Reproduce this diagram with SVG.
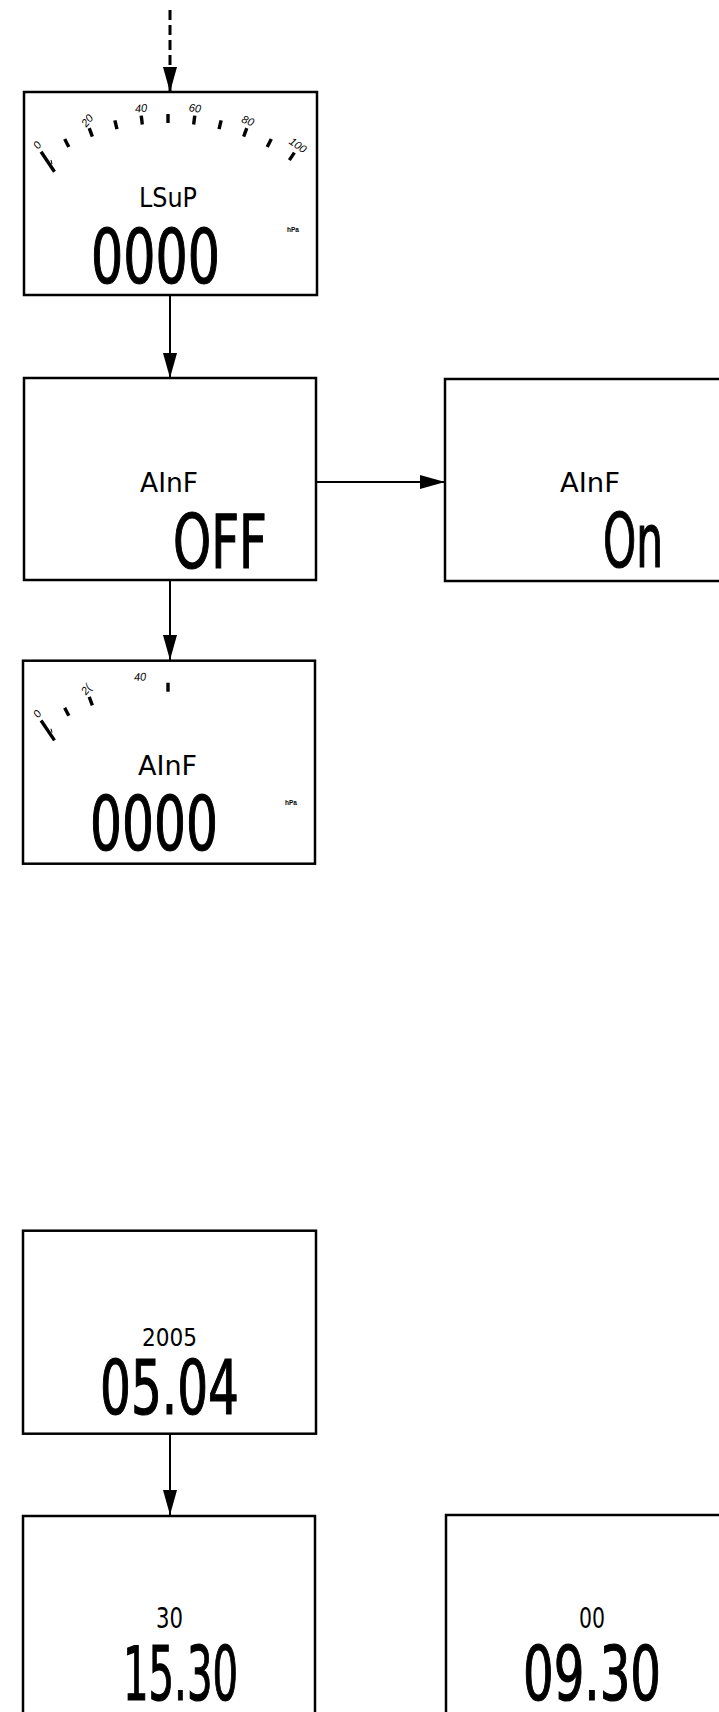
<svg xmlns="http://www.w3.org/2000/svg" width="719" height="1712" viewBox="0 0 719 1712">
<style>
.box{fill:#fff;stroke:#000;stroke-width:2.5}
.con{stroke:#000;stroke-width:2;fill:none}
.dash{stroke-width:3}
.lcd{font-family:"Liberation Sans Narrow","DejaVu Sans Condensed","Liberation Sans",sans-serif;fill:#000}
.big{font-size:75px;stroke:#000;stroke-width:1.2}
.mid{font-size:27px}
.lbl{font-family:"Liberation Sans Narrow","Liberation Sans",sans-serif;font-size:11px;font-style:italic;fill:#000}
.unit{font-family:"Liberation Sans Narrow","Liberation Sans",sans-serif;font-size:8px;font-weight:bold;fill:#000}
.tick{stroke:#000;stroke-width:3.4;stroke-linecap:butt}
</style>
<defs>
<marker id="ah" viewBox="0 0 25 14" refX="25" refY="7" markerWidth="25" markerHeight="14" markerUnits="userSpaceOnUse" orient="auto">
<path d="M0,0 L25,7 L0,14 z" fill="#000"/>
</marker>
<g id="gaugeTick"><line class="tick" x1="168" y1="114" x2="168" y2="123"/></g>
</defs>

<g id="connectors">
<line class="con dash" x1="170" y1="10" x2="170" y2="92" stroke-dasharray="10 5" marker-end="url(#ah)"/>
<line class="con" x1="170" y1="295" x2="170" y2="378" marker-end="url(#ah)"/>
<line class="con" x1="316" y1="482" x2="445" y2="482" marker-end="url(#ah)"/>
<line class="con" x1="170" y1="580" x2="170" y2="660" marker-end="url(#ah)"/>
<line class="con" x1="170" y1="1434" x2="170" y2="1515" marker-end="url(#ah)"/>
</g>

<g id="node-lsup">
<rect class="box" x="24" y="92" width="293" height="203"/>
<g id="gauge1">
<line class="tick" x1="168" y1="137" x2="168" y2="113" transform="rotate(-34 168 340)"/>
<line stroke="#000" stroke-width="1" x1="51" y1="160" x2="52" y2="164"/>
<use href="#gaugeTick" transform="rotate(-27.2 168 340)"/>
<use href="#gaugeTick" transform="rotate(-20.4 168 340)"/>
<use href="#gaugeTick" transform="rotate(-13.6 168 340)"/>
<use href="#gaugeTick" transform="rotate(-6.8 168 340)"/>
<use href="#gaugeTick"/>
<use href="#gaugeTick" transform="rotate(6.8 168 340)"/>
<use href="#gaugeTick" transform="rotate(13.6 168 340)"/>
<use href="#gaugeTick" transform="rotate(20.4 168 340)"/>
<use href="#gaugeTick" transform="rotate(27.2 168 340)"/>
<use href="#gaugeTick" transform="rotate(34 168 340)"/>
<text class="lbl" x="37" y="149" text-anchor="middle" transform="rotate(-55 37 145)">0</text>
<text class="lbl" x="87" y="124.5" text-anchor="middle" transform="rotate(-50 87 120.5)">20</text>
<text class="lbl" x="141" y="112" text-anchor="middle" transform="rotate(-4 141 108)">40</text>
<text class="lbl" x="195" y="112" text-anchor="middle" transform="rotate(6 195 108)">60</text>
<text class="lbl" x="248" y="124.5" text-anchor="middle" transform="rotate(22 248 120.5)">80</text>
<text class="lbl" x="298" y="149" text-anchor="middle" transform="rotate(35 298 145)">100</text>
</g>
<text class="lcd mid" x="139" y="207" textLength="58" lengthAdjust="spacingAndGlyphs">LSuP</text>
<text class="lcd big" x="91" y="283" textLength="129" lengthAdjust="spacingAndGlyphs">0000</text>
<text class="unit" x="287" y="232" textLength="12" lengthAdjust="spacingAndGlyphs">hPa</text>
</g>

<g id="node-ainf-off">
<rect class="box" x="24" y="378" width="292" height="202"/>
<text class="lcd mid" x="140" y="492" textLength="58" lengthAdjust="spacingAndGlyphs">AInF</text>
<text class="lcd big" x="173" y="568" textLength="94" lengthAdjust="spacingAndGlyphs">OFF</text>
</g>

<g id="node-ainf-on">
<rect class="box" x="445" y="379" width="300" height="202"/>
<text class="lcd mid" x="560" y="492" textLength="60" lengthAdjust="spacingAndGlyphs">AInF</text>
<text class="lcd big" x="603" y="567" textLength="60" lengthAdjust="spacingAndGlyphs">On</text>
</g>

<g id="node-ainf-value">
<rect class="box" x="23" y="660.7" width="292" height="203"/>
<g id="gauge2" transform="translate(0 568.7)">
<line class="tick" x1="168" y1="137" x2="168" y2="113" transform="rotate(-34 168 340)"/>
<line stroke="#000" stroke-width="1" x1="51" y1="160" x2="52" y2="164"/>
<use href="#gaugeTick" transform="rotate(-27.2 168 340)"/>
<use href="#gaugeTick" transform="rotate(-20.4 168 340)"/>
<use href="#gaugeTick"/>
<text class="lbl" x="37" y="149" text-anchor="middle" transform="rotate(-55 37 145)">0</text>
<text class="lbl" x="86" y="124.5" text-anchor="middle" transform="rotate(-50 86 120.5)">2(</text>
<text class="lbl" x="140" y="112" text-anchor="middle" transform="rotate(-4 140 108)">40</text>
</g>
<text class="lcd mid" x="138" y="775" textLength="59" lengthAdjust="spacingAndGlyphs">AInF</text>
<text class="lcd big" x="90" y="850" textLength="128" lengthAdjust="spacingAndGlyphs">0000</text>
<text class="unit" x="285" y="805" textLength="12" lengthAdjust="spacingAndGlyphs">hPa</text>
</g>

<g id="node-date">
<rect class="box" x="23" y="1230.7" width="293" height="203"/>
<text class="lcd" font-size="24" x="142" y="1346" textLength="55" lengthAdjust="spacingAndGlyphs">2005</text>
<text class="lcd big" font-size="73" x="100" y="1414" textLength="139" lengthAdjust="spacingAndGlyphs">05.04</text>
</g>

<g id="node-time-1">
<rect class="box" x="23" y="1516" width="292" height="220"/>
<text class="lcd" font-size="29" x="156" y="1628" textLength="27" lengthAdjust="spacingAndGlyphs">30</text>
<text class="lcd big" x="123" y="1700" textLength="115" lengthAdjust="spacingAndGlyphs">15.30</text>
</g>

<g id="node-time-2">
<rect class="box" x="446" y="1515" width="300" height="220"/>
<text class="lcd" font-size="29" x="579" y="1628" textLength="26" lengthAdjust="spacingAndGlyphs">00</text>
<text class="lcd big" x="523" y="1700" textLength="138" lengthAdjust="spacingAndGlyphs">09.30</text>
</g>
</svg>
